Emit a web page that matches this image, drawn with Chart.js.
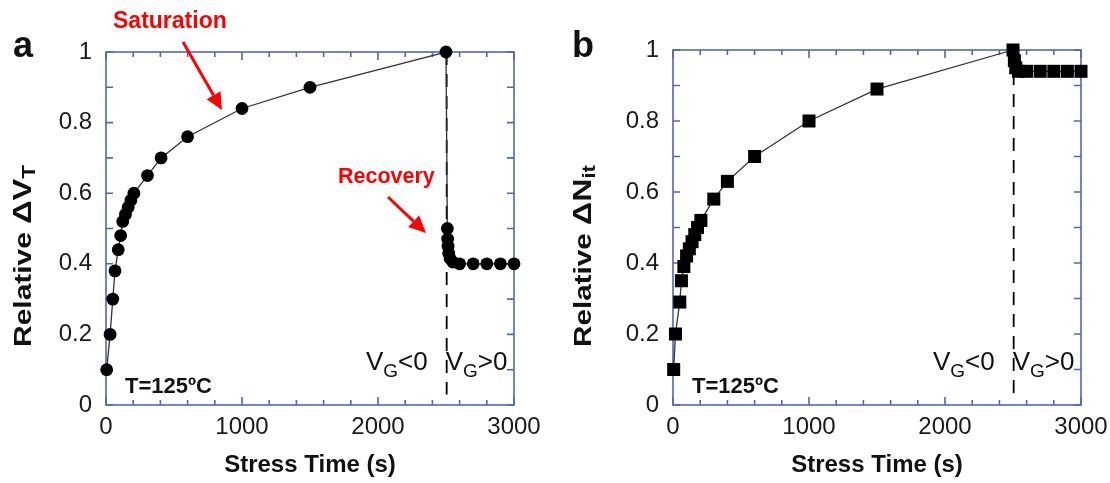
<!DOCTYPE html>
<html>
<head>
<meta charset="utf-8">
<script src="https://cdn.jsdelivr.net/npm/chart.js@4.4.1/dist/chart.umd.min.js"></script>
<style>
  html, body { margin: 0; padding: 0; background: #fff; overflow: hidden; }
  body { width: 1110px; height: 483px; position: relative; }
  canvas { position: absolute; top: 0; }
  #panelA { left: 0; }
  #panelB { left: 560px; }
</style>
</head>
<body>
<canvas id="panelA" width="600" height="483"></canvas>
<canvas id="panelB" width="600" height="483"></canvas>
<script>
// Panel a: relative threshold-voltage shift during stress (VG<0) then recovery (VG>0)
const timeA = [5, 30, 50, 66, 90, 108, 123, 143, 163, 183, 205, 305, 405, 600, 1000, 1500, 2500,
               2510, 2512, 2515, 2520, 2530, 2550, 2600, 2700, 2800, 2900, 3000];
const dvtA  = [0.10, 0.20, 0.30, 0.38, 0.44, 0.48, 0.52, 0.54, 0.56, 0.58, 0.60, 0.65, 0.70, 0.76, 0.84, 0.90, 1.00,
               0.50, 0.47, 0.45, 0.43, 0.415, 0.405, 0.40, 0.40, 0.40, 0.40, 0.40];

// Panel b: relative interface-trap density over the same sequence
const timeB = [5, 18, 50, 62, 80, 100, 120, 140, 160, 180, 205, 300, 400, 600, 1000, 1500, 2500,
               2510, 2520, 2540, 2600, 2700, 2800, 2900, 3000];
const nitB  = [0.10, 0.20, 0.29, 0.35, 0.39, 0.42, 0.44, 0.46, 0.48, 0.50, 0.52, 0.58, 0.63, 0.70, 0.80, 0.89, 1.00,
               0.97, 0.95, 0.94, 0.94, 0.94, 0.94, 0.94, 0.94];

// Moment the gate bias is switched from negative to positive
const switchTime = 2505;
const switchLine = [1.0, 0.03];

const xTicks = [0, 1000, 2000, 3000];
const yTicks = [0, 0.2, 0.4, 0.6, 0.8, 1];

const FONT = '"Liberation Sans", Arial, Helvetica, sans-serif';
const AXIS_BLUE = '#5466b2';
Chart.defaults.font.family = FONT;
Chart.defaults.color = '#1a1a1a';

function toPoints(xs, ys) { return xs.map((x, i) => ({ x: x, y: ys[i] })); }

// Draws a run of text pieces: [text, fontSize, baselineShift]
function drawRich(ctx, parts, x, y, weight) {
  let cx = x;
  parts.forEach(p => {
    ctx.font = weight + ' ' + p[1] + 'px ' + FONT;
    ctx.fillText(p[0], cx, y + p[2]);
    cx += ctx.measureText(p[0]).width;
  });
  return cx - x;
}
function richWidth(ctx, parts, weight) {
  let w = 0;
  parts.forEach(p => {
    ctx.font = weight + ' ' + p[1] + 'px ' + FONT;
    w += ctx.measureText(p[0]).width;
  });
  return w;
}

function arrow(ctx, x1, y1, x2, y2) {
  const ang = Math.atan2(y2 - y1, x2 - x1);
  const hl = 17, hw = 8;
  const bx = x2 - hl * Math.cos(ang), by = y2 - hl * Math.sin(ang);
  ctx.save();
  ctx.strokeStyle = '#ff0000';
  ctx.fillStyle = '#ff0000';
  ctx.lineWidth = 3;
  ctx.beginPath();
  ctx.moveTo(x1, y1);
  ctx.lineTo(bx, by);
  ctx.stroke();
  ctx.beginPath();
  ctx.moveTo(x2, y2);
  ctx.lineTo(bx + hw * Math.sin(ang), by - hw * Math.cos(ang));
  ctx.lineTo(bx - hw * Math.sin(ang), by + hw * Math.cos(ang));
  ctx.closePath();
  ctx.fill();
  ctx.restore();
}

// Box frame with inward ticks on all four sides
const framePlugin = {
  id: 'frame',
  beforeDatasetsDraw(chart) {
    const { ctx, chartArea: a, scales } = chart;
    const xs = scales.x, ys = scales.y;
    ctx.save();
    ctx.strokeStyle = AXIS_BLUE;
    ctx.lineWidth = 1.6;
    ctx.strokeRect(a.left, a.top, a.right - a.left, a.bottom - a.top);
    ctx.beginPath();
    for (let v = 0; v <= 3000; v += 200) {
      const px = xs.getPixelForValue(v);
      const len = v % 1000 === 0 ? 8 : 5;
      ctx.moveTo(px, a.bottom); ctx.lineTo(px, a.bottom - len);
      ctx.moveTo(px, a.top); ctx.lineTo(px, a.top + len);
    }
    for (let i = 0; i <= 10; i++) {
      const py = ys.getPixelForValue(i / 10);
      ctx.moveTo(a.left, py); ctx.lineTo(a.left + 7, py);
      ctx.moveTo(a.right, py); ctx.lineTo(a.right - 7, py);
    }
    ctx.stroke();
    ctx.restore();
  }
};

// Panel letter, rotated y title, temperature and bias labels
function labelsPlugin(cfg) {
  return {
    id: 'labels',
    afterDraw(chart) {
      const { ctx, chartArea: a, scales } = chart;
      ctx.save();
      ctx.fillStyle = '#111';
      ctx.textBaseline = 'alphabetic';
      ctx.textAlign = 'left';
      ctx.font = 'bold 36px ' + FONT;
      ctx.fillText(cfg.letter, cfg.letterX, 57);

      // rotated axis title, stretched along its run to the title length
      const tw = richWidth(ctx, cfg.yTitle, 'bold');
      const stretch = 182 / tw;
      ctx.save();
      ctx.translate(cfg.titleX, 256);
      ctx.rotate(-Math.PI / 2);
      ctx.scale(stretch, 1);
      ctx.textBaseline = 'middle';
      drawRich(ctx, cfg.yTitle, -tw / 2, 0, 'bold');
      ctx.restore();

      ctx.textBaseline = 'alphabetic';
      ctx.font = 'bold 22px ' + FONT;
      ctx.fillText('T=125\u00BAC', a.left + 19, a.bottom - 12);

      const dx = scales.x.getPixelForValue(switchTime);
      const vy = a.bottom - 35;
      const neg = [['V', 26, 0], ['G', 19, 7], ['<0', 26, 0]];
      const pos = [['V', 26, 0], ['G', 19, 7], ['>0', 26, 0]];
      const nw = richWidth(ctx, neg, 'normal');
      drawRich(ctx, neg, dx - 19 - nw, vy, 'normal');
      drawRich(ctx, pos, dx - 1, vy, 'normal');

      if (cfg.notes) {
        ctx.fillStyle = '#ff0000';
        ctx.font = 'bold 23px ' + FONT;
        ctx.fillText('Saturation', 113, 28);
        ctx.font = 'bold 21.5px ' + FONT;
        ctx.fillText('Recovery', 338, 183);
        arrow(ctx, 183, 42, 222, 110);
        arrow(ctx, 388, 197, 426, 233);
      }
      ctx.restore();
    }
  };
}

function makePanel(id, xs, ys, pointStyle, radius, yWidth, pad, cfg) {
  new Chart(document.getElementById(id), {
    type: 'scatter',
    data: {
      datasets: [
        {
          data: toPoints(xs, ys),
          showLine: true,
          borderColor: '#333',
          borderWidth: 1.3,
          backgroundColor: '#000',
          pointBackgroundColor: '#000',
          pointBorderColor: '#000',
          pointBorderWidth: 0,
          pointStyle: pointStyle,
          pointRadius: radius,
          clip: false,
          order: 1
        },
        {
          data: switchLine.map(v => ({ x: switchTime, y: v })),
          showLine: true,
          borderColor: '#000',
          borderWidth: 1.8,
          borderDash: [13, 9],
          pointRadius: 0,
          clip: false,
          order: 2
        }
      ]
    },
    options: {
      responsive: false,
      animation: false,
      events: [],
      layout: { padding: pad },
      plugins: { legend: { display: false }, tooltip: { enabled: false } },
      scales: {
        x: {
          type: 'linear', min: 0, max: 3000,
          grid: { display: false, drawTicks: false },
          border: { display: false },
          afterBuildTicks(s) { s.ticks = xTicks.map(v => ({ value: v })); },
          ticks: { font: { size: 24 }, color: '#1a1a1a', padding: 8, maxRotation: 0,
                   callback: v => String(v) },
          title: { display: true, text: 'Stress Time (s)', font: { size: 24, weight: 'bold' }, color: '#111', padding: { top: 0, bottom: 3 } },
          afterFit(s) { s.height = 78; }
        },
        y: {
          type: 'linear', min: 0, max: 1,
          grid: { display: false, drawTicks: false },
          border: { display: false },
          afterBuildTicks(s) { s.ticks = yTicks.map(v => ({ value: v })); },
          ticks: { font: { size: 24 }, color: '#1a1a1a', padding: 14,
                   callback: v => String(Math.round(v * 10) / 10) },
          afterFit(s) { s.width = yWidth; }
        }
      }
    },
    plugins: [framePlugin, labelsPlugin(cfg)]
  });
}

makePanel('panelA', timeA, dvtA, 'circle', 6.4, 106, { top: 52, right: 86, left: 0, bottom: 0 },
  { letter: 'a', letterX: 13, titleX: 24,
    yTitle: [['Relative ', 24, 0], ['\u0394V', 26, 0], ['T', 18, 6]], notes: true });
makePanel('panelB', timeB, nitB, 'rect', 9.2, 113, { top: 50, right: 79, left: 0, bottom: 0 },
  { letter: 'b', letterX: 12, titleX: 24,
    yTitle: [['Relative ', 24, 0], ['\u0394N', 26, 0], ['it', 18, 6]], notes: false });
</script>
</body>
</html>
